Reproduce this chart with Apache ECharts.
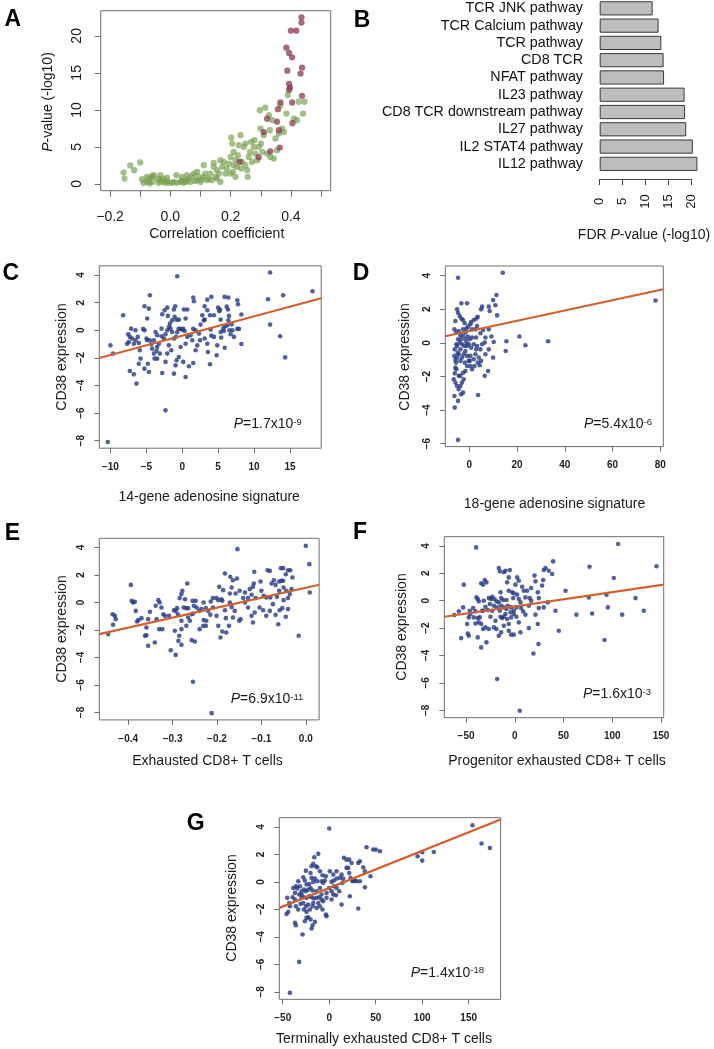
<!DOCTYPE html>
<html><head><meta charset="utf-8">
<script src="https://cdn.jsdelivr.net/npm/echarts@6/dist/echarts.min.js"></script>
<style>html,body{margin:0;padding:0;background:#fff}#c{width:714px;height:1049px}</style>
</head><body><div id="c"></div><script>
const FONT = '"Liberation Sans", Arial, Helvetica, sans-serif';
const BOX = '#6e6e6e';
const TXT = '#1a1a1a';
const NAVY = '#273a82';
const FITCOL = '#d2602e';
const GREEN = 'rgba(120,160,80,0.85)';
const RED = 'rgba(135,55,75,0.92)';

// ---------- Panel A ----------
const aGreen = [[-0.155,1.53],[-0.152,0.72],[-0.133,2.5],[-0.12,1.85],[-0.1,2.9],[-0.094,0.63],[-0.089,0.14],[-0.078,0.27],[-0.072,0.59],[-0.066,0.86],[-0.06,1.08],[-0.055,1.17],[-0.078,0.95],[-0.069,0.05],[-0.06,0.27],[-0.039,0.14],[-0.035,0.5],[-0.028,0.27],[-0.033,1.17],[-0.024,0.72],[-0.017,0.14],[-0.011,0.4],[-0.006,0.14],[-0.011,0.86],[0.006,0.14],[0.011,0.27],[0.02,1.17],[0.022,0.14],[0.033,0.27],[0.039,0.5],[0.044,0.14],[0.05,0.27],[0.055,0.5],[0.061,0.72],[0.066,0.27],[0.039,0.95],[0.072,1.04],[0.078,1.4],[0.081,0.4],[0.089,0.5],[0.094,0.95],[0.1,0.27],[0.105,0.59],[0.111,0.95],[0.116,1.4],[0.122,0.5],[0.127,0.72],[0.133,1.4],[0.138,0.5],[0.144,2.3],[0.144,2.84],[0.15,0.95],[0.155,1.85],[0.161,1.4],[0.166,0.27],[0.172,2.3],[0.177,2.97],[0.183,1.4],[0.188,2.07],[0.194,2.75],[0.2,3.65],[0.202,6.26],[0.205,5.45],[0.208,1.62],[0.21,2.52],[0.216,3.2],[0.221,2.3],[0.224,3.87],[0.227,5.22],[0.233,6.58],[0.235,2.07],[0.238,2.97],[0.244,5.0],[0.249,2.52],[0.255,1.85],[0.257,0.95],[0.26,3.65],[0.264,4.32],[0.268,5.68],[0.271,2.97],[0.277,5.0],[0.279,5.9],[0.282,4.1],[0.288,3.2],[0.293,5.0],[0.297,9.95],[0.299,7.48],[0.301,5.45],[0.305,4.32],[0.31,6.58],[0.315,10.3],[0.321,4.1],[0.327,9.28],[0.33,7.25],[0.332,3.65],[0.338,8.6],[0.343,3.42],[0.349,6.13],[0.354,4.55],[0.36,6.8],[0.365,10.6],[0.371,7.48],[0.377,7.0],[0.385,9.5],[0.39,12.0],[0.41,8.83],[0.42,8.6],[0.44,9.5],[0.445,11.1],[0.426,11.1],[0.166,3.2],[0.21,4.32],[0.249,5.45],[0.111,2.52],[0.089,1.62],[0.2,1.4],[0.216,0.95],[0.155,0.72],[0.055,1.17],[-0.044,0.72]];
const aRed = [[0.435,22.5],[0.435,21.8],[0.40,20.7],[0.418,20.7],[0.385,18.4],[0.394,17.7],[0.404,17.1],[0.388,15.3],[0.437,15.7],[0.432,14.9],[0.394,13.5],[0.397,13.0],[0.394,12.7],[0.437,11.9],[0.365,11.0],[0.404,11.0],[0.357,10.1],[0.321,8.8],[0.354,8.4],[0.405,8.2],[0.36,7.25],[0.31,7.0],[0.363,4.9],[0.332,4.4],[0.23,3.0],[0.293,3.6]];
const aXTicks = [-0.2,-0.1,0,0.1,0.2,0.3,0.4,0.5];
const aXLabels = [-0.2,0,0.2,0.4];
const aYTicks = [0,5,10,15,20];

// ---------- Panel B ----------
const bCategories = ['TCR JNK pathway','TCR Calcium pathway','TCR pathway','CD8 TCR','NFAT pathway','IL23 pathway','CD8 TCR downstream pathway','IL27 pathway','IL2 STAT4 pathway','IL12 pathway'];
const bValues = [11.6,12.9,13.5,14.0,14.1,18.6,18.7,18.95,20.4,21.4];
const bTicks = [0,5,10,15,20];

// ---------- Panels C-G (CD38 expression vs signature) ----------
const cPoints = [[-0.7,3.91],[12.23,4.18],[18.14,2.83],[11.95,2.25],[14.05,2.54],[12.23,0.41],[13.63,-0.43],[14.33,-1.96],[8.23,-0.99],[7.67,2.17],[7.77,1.88],[8.23,1.14],[7.67,0.1],[7.9,0.1],[6.42,2.37],[5.9,2.42],[6.19,1.71],[6.37,1.5],[6.51,1.04],[6.42,0.72],[6.28,0.36],[6.56,0],[6.74,-0.29],[5.98,0.29],[5.7,0.12],[5.42,-0.53],[5.26,1.5],[4.98,1.64],[5.16,1.38],[4.05,2.42],[3.86,1.09],[3.12,0.77],[3.49,1.45],[2.56,0.41],[2.79,1.09],[3.02,0.72],[3.95,0.05],[3.12,-0.6],[3.49,-0.97],[3.58,-1.57],[3.86,-2.46],[4.79,-1.81],[4.88,-1.09],[4.42,-0.48],[4.05,-0.39],[5.35,-0.12],[5.81,-0.05],[5.91,-1.26],[6.98,0],[1.53,2.37],[1.63,2.1],[0.7,1.5],[0.23,1.5],[0.47,0.85],[0.14,0.1],[0.33,-0.05],[0,0.05],[-0.23,0.1],[-0.47,0.77],[-0.79,0.77],[-1.07,0.97],[-1.16,1.5],[-0.98,1.74],[-0.51,0.1],[-0.7,-0.14],[-0.88,-0.48],[-1.16,-0.6],[-1.4,-0.12],[-1.63,0.12],[-1.86,0.24],[-2.09,0],[-2.33,-0.29],[-2.56,-0.6],[-2.88,-0.43],[-2.88,0.12],[-2.79,1.16],[-3.26,-0.97],[-3.49,-1.21],[-3.58,-1.5],[-3.49,-2.05],[-3.86,-2.05],[-3.95,-1.69],[-4.19,-1.33],[-4.33,-1.01],[-4.51,-0.72],[-4.88,-0.72],[-4.98,-0.6],[-5.26,0],[-5.44,0.1],[-4.88,0.85],[-4.65,1.57],[-5.26,1.74],[-4.51,2.54],[-4.79,-2.42],[-4.65,-3.02],[-5.26,-2.78],[-5.81,-2.05],[-5.91,-1.45],[-6.05,-0.92],[-6.19,-0.48],[-6.51,-0.72],[-6.74,-0.97],[-6.98,-0.6],[-7.12,0.12],[-7.3,-0.48],[-7.53,-0.29],[-7.44,-0.85],[-7.67,-0.97],[-7.3,-2.95],[-6.74,-3.19],[-6.37,-3.86],[-6.05,-2.42],[-8.23,1.09],[-10.0,-1.09],[-9.63,-1.69],[-10.37,-8.09],[-2.33,-5.8],[-1.16,-3.14],[-0.93,-2.54],[0.14,-2.29],[0.47,-3.38],[0.93,-2.61],[1.53,-2.37],[1.86,-1.45],[2.09,-1.09],[2.47,-0.72],[1.4,-0.72],[1.16,-0.36],[1.53,0.1],[1.86,0],[2.33,-0.24],[0.7,-0.48],[0.47,-0.97],[-0.23,-1.21],[-0.47,-1.93],[-0.79,-2.17],[-1.53,-1.45],[-1.86,-1.09],[-2.09,-1.69],[-2.33,-2.29],[-2.79,-3.09],[-3.12,-1.69],[-2.09,1.64],[-2.47,1.45],[-2.0,1.04],[-1.72,0.48],[-1.4,0.72],[-3.49,-0.36],[-3.72,-0.12],[-3.95,-0.72],[-6.51,0],[3.12,1.74],[4.42,1.09],[3.49,2.22],[5.35,0.77],[7.21,-0.48],[6.88,0.43]];
const dPoints = [[-4.76,3.88],[13.99,4.18],[78.04,2.53],[11.33,2.85],[9.93,2.55],[10.91,2.24],[11.61,1.64],[8.11,2.16],[8.53,1.9],[5.31,2.16],[4.9,2.0],[3.5,1.56],[2.94,1.45],[1.82,1.37],[0.7,1.25],[0.42,1.11],[-0.56,0.97],[-1.26,0.85],[-1.96,1.17],[-2.66,1.37],[-3.36,1.45],[-4.06,1.6],[-4.76,1.8],[-5.17,2.0],[-3.36,2.36],[-0.98,2.36],[-5.87,1.31],[-6.29,0.81],[-5.45,0.62],[-4.48,0.71],[-3.78,0.46],[-2.66,0.81],[-1.68,0.62],[-0.7,0.38],[0.14,0.22],[1.12,0.32],[2.8,0.32],[4.62,0.58],[5.73,0.77],[6.71,0.32],[9.23,0.38],[10.21,0.06],[15.52,0.1],[20.98,0.38],[23.5,-0.14],[33.0,0.1],[15.24,-0.48],[9.93,-0.87],[8.11,-0.38],[6.71,-0.67],[5.31,-0.08],[4.62,-0.38],[3.22,-0.18],[1.82,-0.08],[0.7,-0.28],[-0.28,-0.08],[-1.26,0.02],[-2.1,-0.18],[-3.08,-0.08],[-4.06,0.02],[-5.17,-0.18],[-6.15,-0.38],[-6.29,-0.77],[-5.87,-1.01],[-5.17,-0.87],[-4.48,-0.67],[-3.78,-1.07],[-3.08,-0.87],[-2.38,-0.67],[-1.68,-0.48],[-0.98,-0.77],[-0.28,-1.07],[0.42,-1.37],[1.12,-1.57],[2.1,-1.37],[3.5,-1.17],[4.34,-1.33],[4.9,-1.07],[3.92,-0.87],[6.43,-1.96],[7.83,-1.67],[3.64,-3.1],[-5.45,-1.57],[-6.15,-1.81],[-6.57,-2.16],[-5.87,-2.36],[-5.17,-2.56],[-4.48,-2.76],[-3.78,-2.56],[-3.08,-2.36],[-2.38,-2.16],[-2.66,-1.77],[-3.78,-1.96],[-1.68,-1.67],[-2.66,-2.96],[-3.5,-3.05],[-6.29,-3.16],[-4.76,-3.45],[-6.15,-3.85],[-4.76,-5.77],[-5.87,-1.47],[-4.48,-1.96],[-5.45,-0.08],[-4.76,0.22],[-3.5,0.22],[-2.66,0.42],[-1.68,0.22],[-0.98,-0.18],[-3.78,-0.38],[-4.9,-0.58],[-5.59,-1.17],[-1.96,-1.17],[-0.98,-1.37],[0.14,-1.07],[0.42,-0.77],[1.82,-0.97],[2.52,-0.67],[2.8,-0.38],[1.12,0.81],[2.52,0.81],[3.22,1.01],[6.43,0.02],[8.11,0.81]];
const ePoints = [[-0.154,3.88],[0.0,4.12],[0.008,2.79],[0.009,0.73],[-0.016,-2.42],[-0.03,1.82],[-0.035,2.35],[-0.04,2.35],[-0.045,2.06],[-0.051,2.5],[-0.056,2.5],[-0.055,1.58],[-0.051,1.58],[-0.06,1.53],[-0.05,1.09],[-0.06,0.85],[-0.068,1.28],[-0.072,1.62],[-0.077,1.38],[-0.086,2.35],[-0.081,2.3],[-0.102,1.53],[-0.116,2.23],[-0.117,1.38],[-0.119,1.14],[-0.122,0.56],[-0.113,0.32],[-0.104,-0.36],[-0.095,0.48],[-0.08,0.36],[-0.074,-0.12],[-0.068,-0.9],[-0.059,-0.56],[-0.053,-0.41],[-0.05,0.17],[-0.04,0.32],[-0.036,0.61],[-0.032,0.97],[-0.045,-1.04],[-0.062,-1.58],[-0.081,-0.61],[-0.089,-0.97],[-0.096,-0.56],[-0.119,-1.45],[-0.115,-0.73],[-0.122,-0.97],[-0.13,-0.36],[-0.137,0],[-0.141,0.32],[-0.147,-1.21],[-0.15,-1.33],[-0.164,-1.09],[-0.167,-0.32],[-0.171,0.65],[-0.167,1.09],[-0.164,1.62],[-0.155,1.75],[-0.17,1.87],[-0.182,2.11],[-0.186,0.9],[-0.188,0.12],[-0.182,-0.56],[-0.18,-1.14],[-0.173,-1.7],[-0.188,-2.11],[-0.192,-2.55],[-0.179,-2.18],[-0.197,-1.7],[-0.201,-0.97],[-0.197,0.17],[-0.201,0.32],[-0.195,1.14],[-0.19,0.24],[-0.209,0.32],[-0.214,0.07],[-0.209,-0.36],[-0.215,-0.9],[-0.22,-0.61],[-0.225,-0.41],[-0.23,-1.28],[-0.235,-0.48],[-0.24,-0.61],[-0.246,-0.36],[-0.252,-0.24],[-0.248,0.12],[-0.255,0.12],[-0.254,-0.8],[-0.257,-0.85],[-0.261,-1.33],[-0.265,-1.09],[-0.269,-0.41],[-0.265,-0.41],[-0.272,0.24],[-0.275,-0.36],[-0.278,0.85],[-0.28,0.61],[-0.284,0.32],[-0.29,-0.41],[-0.293,-0.61],[-0.297,-0.56],[-0.28,-1.33],[-0.269,-1.7],[-0.28,-1.94],[-0.285,-2.42],[-0.295,-2.06],[-0.287,-2.79],[-0.257,-2.74],[-0.25,-2.84],[-0.239,-1.94],[-0.231,-1.7],[-0.225,-1.7],[-0.224,-1.33],[-0.23,0],[-0.288,-0.85],[-0.28,-3.08],[-0.293,-3.81],[-0.267,1.38],[-0.254,-5.77],[-0.212,-8.05],[-0.304,-3.47],[-0.308,-0.97],[-0.317,-0.97],[-0.321,-0.85],[-0.325,-0.36],[-0.329,0],[-0.332,0.17],[-0.338,-0.24],[-0.336,-1.21],[-0.33,-1.94],[-0.323,-1.94],[-0.34,-2.91],[-0.351,-0.68],[-0.355,-1.21],[-0.359,-1.82],[-0.359,-2.38],[-0.362,-2.42],[-0.355,-3.15],[-0.37,-1.14],[-0.377,-1.28],[-0.383,-0.61],[-0.38,-1.38],[-0.385,0.05],[-0.389,0],[-0.392,0.12],[-0.394,1.28],[-0.428,-1.21],[-0.43,-0.97],[-0.434,-1.62],[-0.435,-0.85],[-0.445,-2.3],[-0.158,0.65],[-0.149,0.85],[-0.137,0.73],[-0.171,0],[-0.16,-0.61],[-0.13,0.32],[-0.126,0.97],[-0.1,0.85],[-0.089,0.36],[-0.065,0.41],[-0.044,0.85],[-0.04,-0.48]];
const fPoints = [[-39.7,3.89],[106,4.14],[145.3,2.51],[76.6,2.48],[101.5,1.66],[94,0.44],[123.8,0.19],[75.9,0.24],[95.4,-0.49],[79.3,-0.93],[63.2,-1.02],[110.1,-1.02],[132.3,-0.73],[92,-2.87],[52,0.73],[41.7,-0.73],[45.1,-2.19],[39.3,2.87],[38.3,1.95],[34.9,2.19],[31.5,2.39],[29.7,2.24],[29.1,1.51],[28.0,1.1],[24.6,0.19],[23.6,0.61],[20.2,1.83],[21.2,1.41],[16.8,0.93],[15.4,0.19],[14.4,-0.37],[16.8,0],[21.2,-1.02],[23.6,-1.7],[24.3,-3.16],[19.1,-3.85],[14.4,-2.0],[10.9,-1.02],[8.5,-0.78],[6.5,-0.54],[9.2,0.73],[7.5,1.02],[4.1,1.46],[2.4,1.7],[0.7,1.17],[-1.0,0.54],[-2.7,0.61],[2.4,0.44],[4.1,0.12],[5.8,-0.12],[1.7,-0.49],[-1.0,-0.73],[-3.8,-0.49],[-4.4,-0.85],[-3.8,-1.22],[-1.0,-0.97],[1.7,-1.17],[4.1,-1.58],[5.8,-2.31],[-1.0,-2.48],[-3.8,-2.48],[-6.2,-1.7],[-7.9,-1.34],[-9.6,-0.97],[-11.3,-1.17],[-8.5,-0.61],[-7.2,-0.37],[-8.5,0.05],[-6.2,0.73],[-7.9,1.34],[-6.2,1.7],[-5.1,2.24],[-9.6,2.19],[-11.3,2.07],[-16.4,2.39],[-15.4,2.14],[-12.0,0.05],[-14.0,0.19],[-16.4,-0.12],[-18.8,-0.05],[-18.1,-0.49],[-15.4,-0.73],[-14.7,-1.17],[-13.0,-1.27],[-11.3,-1.83],[-14.0,-2.31],[-16.4,-2.56],[-18.8,-2.07],[-21.5,-1.95],[-25.0,-1.17],[-23.2,-0.73],[-21.5,-0.37],[-24.3,0.12],[-26.7,0.19],[-23.2,0.29],[-25.6,-0.24],[-27.7,-0.68],[-30.1,-0.44],[-32.5,-0.73],[-31.8,0],[-30.8,1.51],[-29.1,1.34],[-32.5,1.17],[-34.5,1.27],[-33.5,-0.73],[-35.9,-1.22],[-38.0,-1.27],[-36.9,-1.58],[-34.5,-1.7],[-32.5,-2.07],[-30.1,-1.95],[-29.1,-3.04],[-34.5,-3.41],[-38.0,-2.68],[-40.3,-1.66],[-42.1,-1.22],[-40.3,-0.78],[-42.7,-0.54],[-39.3,0.24],[-38.0,0.12],[-36.9,-0.05],[-45.5,-0.97],[-47.2,-1.22],[-46.2,-0.73],[-48.9,-1.7],[-48.2,-2.39],[-47.2,-2.56],[-53,-0.49],[-55,-2.73],[-52.3,1.17],[-57.4,-0.78],[-62,-1.05],[-18.1,-5.72],[5.1,-8.03],[-26.7,-2.07],[-19.8,-1.46],[-6.2,-2.19],[-1.7,0.19],[-11.3,-0.49],[-14,-0.37],[-20.9,0.12],[-14.7,0.61],[24.6,-0.54],[29.7,-0.49],[33.8,-0.12],[10.9,0.24],[12.6,0.73]];
const gPoints = [[0,3.88],[154.1,4.12],[163.8,2.79],[172.8,2.47],[112.5,2.18],[100,2.16],[95,1.87],[100,1.55],[54.5,2.23],[50.2,2.35],[47.3,2.35],[40.1,2.52],[38.4,0.78],[44.4,0.41],[36.6,1.07],[33,1.5],[31.2,1.38],[29.4,0.05],[27.6,0.1],[25.1,0.05],[22.9,0.29],[21.5,0.65],[22.2,-1.04],[31.2,-1.94],[38.4,-0.39],[14.3,-0.07],[15.1,0.24],[15.8,1.75],[18.6,1.62],[21.5,1.62],[24,1.38],[20.4,1.02],[13.3,0.53],[11.5,0.29],[7.9,0.24],[5,0.1],[2.5,0],[0.7,0.78],[5,-0.32],[7.9,-0.44],[10.8,-0.68],[13.3,-1.65],[7.2,-0.97],[2.5,-0.68],[0,-0.44],[-2.9,-0.8],[-4.7,0.1],[-6.5,-0.07],[-3.6,0.41],[-7.2,0.48],[-10,0.78],[-11.8,2.04],[-16.1,1.79],[-14.3,1.14],[-12.9,1.07],[-17.2,1.31],[-19,1.14],[-15.4,0.24],[-17.2,0],[-19,0.29],[-20.1,0.65],[-21.5,-0.15],[-20.1,-0.44],[-22.6,-0.56],[-24.4,-0.19],[-26.2,0.1],[-27.9,0.34],[-25.1,0.82],[-27.2,-0.56],[-29.7,-0.68],[-31.5,-0.32],[-33.3,0.05],[-35.8,-0.32],[-38.7,-0.44],[-32.3,-0.92],[-29.7,-1.16],[-27.2,-1.12],[-24.4,-1.16],[-21.5,-1.04],[-19,-1.12],[-16.5,-1.21],[-13.6,-1.16],[-10.8,-1.12],[-8.2,-1.28],[-6.5,-1.41],[-2.9,-1.16],[2.5,-1.28],[-22.6,-1.65],[-25.1,-1.77],[-27.9,-1.53],[-30.8,-1.6],[-33.3,-2.01],[-35.8,-1.77],[-27.2,-2.01],[-24.4,-2.18],[-20.8,-2.01],[-17.9,-1.77],[-13.6,-1.89],[-10,-1.77],[-7.2,-2.01],[-3.6,-2.38],[-2.9,-2.5],[-24.4,-2.62],[-26.2,-2.86],[-22.6,-2.57],[-20.1,-2.74],[-17.9,-3.15],[-15.4,-2.91],[-19,-3.39],[-36.9,-2.98],[-35.8,-3.15],[-28.7,-3.83],[-42.3,-1.77],[-43,-1.53],[-45.2,-1.16],[-44.1,-2.18],[-45.9,-2.33],[-39.4,-1.12],[-36.9,-0.8],[-32.3,-5.82],[-42.3,-8.07],[-36.9,-1.28],[-34.4,-0.48],[-29.7,-0.92],[-25.1,-0.68],[-17.9,-0.63],[-13.6,-0.68],[-10,-0.44],[-8.2,0.05],[-12.9,0.05],[4.3,0.53],[7.9,0.78],[18.6,1.02],[25.8,0.1],[33,0.05],[4.3,-0.92],[-8.2,-0.92],[-11.8,-1.53],[-17.2,-1.53]];

// regression fits: [intercept, slope]
const cFit = [-0.39, 0.14];
const dFit = [0.71, 0.0306];
const eFit = [1.07, 7.25];
const fFit = [-0.42, 0.0104];
const gFit = [-0.44, 0.027];

// tick values
const yTicks8 = [-8,-6,-4,-2,0,2,4];
const yTicks6 = [-6,-4,-2,0,2,4];
const cXTicks = [-10,-5,0,5,10,15];
const dXTicks = [0,20,40,60,80];
const eXTicks = [-0.4,-0.3,-0.2,-0.1,0];
const fXTicks = [-50,0,50,100,150];
const gXTicks = [-50,0,50,100,150];

// p-value labels
const pLabels = {C:['1.7','-9'], D:['5.4','-6'], E:['6.9','-11'], F:['1.6','-3'], G:['1.4','-18']};

// ---------- helpers ----------
const minus = s => String(s).replace('-', '\u2212');
const fmtInt = v => minus(Math.round(v));
const fmt1 = v => minus((Math.abs(v) < 1e-9 ? 0 : v).toFixed(1));

function valAxis(gi, min, max, ticks, labels, fmt, isY, o) {
  return {
    gridIndex: gi, type: 'value', min: min, max: max,
    position: isY ? 'left' : 'bottom',
    axisLine: {show: false, onZero: false}, splitLine: {show: false},
    axisTick: {show: true, inside: false, length: o.tick, customValues: ticks, lineStyle: {color: BOX, width: 1}},
    axisLabel: {customValues: labels, formatter: fmt, fontSize: o.fs, fontWeight: o.fw || 'normal', color: o.col || TXT, fontFamily: FONT,
      margin: o.margin, rotate: isY ? 90 : 0}
  };
}

const grids = [], xAxes = [], yAxes = [], series = [], graphics = [];
const boxGrid = g => Object.assign({show: true, borderColor: BOX, borderWidth: 1, backgroundColor: 'transparent', outerBoundsMode: 'none', containLabel: false}, g);

// Panel A
grids.push(boxGrid({left: 100.7, top: 10.7, width: 230, height: 180}));
xAxes.push(valAxis(0, -0.231, 0.532, aXTicks, aXLabels, fmt1, false, {tick: 6, fs: 14, margin: 19}));
yAxes.push(valAxis(0, -0.92, 23.4, aYTicks, aYTicks, fmtInt, true, {tick: 6, fs: 14, margin: 17}));
series.push({type: 'scatter', xAxisIndex: 0, yAxisIndex: 0, data: aGreen, symbolSize: 6.3, itemStyle: {color: GREEN}, silent: true});
series.push({type: 'scatter', xAxisIndex: 0, yAxisIndex: 0, data: aRed, symbolSize: 6.3, itemStyle: {color: RED}, silent: true, z: 3});

// Panel B
grids.push({left: 599.7, top: -0.3, width: 91.3, height: 172.8, outerBoundsMode: 'none', containLabel: false});
xAxes.push({gridIndex: 1, type: 'value', min: 0, max: 20, position: 'bottom', offset: 6.5,
  axisLine: {show: true, onZero: false, lineStyle: {color: '#444', width: 1}}, splitLine: {show: false},
  axisTick: {show: true, length: 6, customValues: bTicks, lineStyle: {color: '#444'}},
  axisLabel: {customValues: bTicks, rotate: 90, align: 'center', verticalAlign: 'middle', margin: 22.5, fontSize: 13, color: TXT, fontFamily: FONT}});
yAxes.push({gridIndex: 1, type: 'category', data: bCategories, inverse: true,
  axisLine: {show: false, onZero: false}, axisTick: {show: false}, splitLine: {show: false},
  axisLabel: {interval: 0, fontSize: 14.3, color: '#111', fontFamily: FONT, margin: 16.7}});
series.push({type: 'bar', xAxisIndex: 1, yAxisIndex: 1, data: bValues, barWidth: 14.2, clip: false,
  itemStyle: {color: '#bdbdbd', borderColor: '#3a3a3a', borderWidth: 1}, silent: true});

// Panels C-G
const panels = [
  {k:'C', pts: cPoints, fit: cFit, g: {left: 99.3, top: 265.8, width: 221.9, height: 182.4}, x: [-11.55, 19.35], y: [-8.54, 4.67], xt: cXTicks, yt: yTicks8, xf: fmtInt},
  {k:'D', pts: dPoints, fit: dFit, g: {left: 445.3, top: 266, width: 218, height: 180.6}, x: [-10.1, 81.3], y: [-6.17, 4.58], xt: dXTicks, yt: yTicks6, xf: fmtInt},
  {k:'E', pts: ePoints, fit: eFit, g: {left: 99.3, top: 538.3, width: 219.8, height: 181.6}, x: [-0.465, 0.03], y: [-8.54, 4.67], xt: eXTicks, yt: yTicks8, xf: fmt1},
  {k:'F', pts: fPoints, fit: fFit, g: {left: 444.3, top: 536.7, width: 219.4, height: 181}, x: [-72.3, 152.7], y: [-8.54, 4.67], xt: fXTicks, yt: yTicks8, xf: fmtInt},
  {k:'G', pts: gPoints, fit: gFit, g: {left: 279.3, top: 817.7, width: 221.3, height: 181.6}, x: [-53.7, 184.3], y: [-8.54, 4.67], xt: gXTicks, yt: yTicks8, xf: fmtInt}
];
panels.forEach((p, i) => {
  const gi = i + 2;
  grids.push(boxGrid(p.g));
  xAxes.push(valAxis(gi, p.x[0], p.x[1], p.xt, p.xt, p.xf, false, {tick: 5, fs: 10, fw: 'bold', col: '#222', margin: 14}));
  yAxes.push(valAxis(gi, p.y[0], p.y[1], p.yt, p.yt, fmtInt, true, {tick: 5, fs: 10, fw: 'bold', col: '#222', margin: 13}));
  series.push({type: 'scatter', xAxisIndex: gi, yAxisIndex: gi, data: p.pts, symbolSize: 4.6, itemStyle: {color: NAVY}, silent: true});
  const x0 = p.x[0], x1 = p.x[1];
  series.push({type: 'line', xAxisIndex: gi, yAxisIndex: gi, showSymbol: false, symbol: 'none', silent: true, z: 4,
    data: [[x0, p.fit[0] + p.fit[1] * x0], [x1, p.fit[0] + p.fit[1] * x1]],
    lineStyle: {color: FITCOL, width: 2.2}});
});

// ---------- text: panel letters, axis titles, annotations ----------
const letters = [['A',12.7,20],['B',362,20.5],['C',10.8,274],['D',361,274],['E',12.5,533.3],['F',360,533],['G',195.8,823.3]];
letters.forEach(l => graphics.push({type: 'text', x: l[1], y: l[2], style: {text: l[0], font: `bold 23px ${FONT}`, fill: '#000', align: 'center', verticalAlign: 'middle'}}));

const richI = {i: {fontStyle: 'italic', fontSize: 14, fontFamily: FONT, fill: TXT, color: TXT}};
function hText(t, x, y) {
  graphics.push({type: 'text', x: x, y: y, style: {text: t, font: `14px ${FONT}`, fill: TXT, align: 'center', verticalAlign: 'middle', rich: richI}});
}
function vText(t, x, y) {
  graphics.push({type: 'text', x: x, y: y, rotation: Math.PI / 2, style: {text: t, font: `14px ${FONT}`, fill: TXT, align: 'center', verticalAlign: 'middle', rich: richI}});
}
hText('Correlation coefficient', 216.7, 234.3);
vText('{i|P}-value (-log10)', 48, 102);
hText('FDR {i|P}-value (-log10)', 644, 235);
hText('14-gene adenosine signature', 209.2, 496.7);
hText('18-gene adenosine signature', 554.5, 504);
hText('Exhausted CD8+ T cells', 207.5, 760.7);
hText('Progenitor exhausted CD8+ T cells', 557, 760.7);
hText('Terminally exhausted CD8+ T cells', 384, 1039);
vText('CD38 expression', 61.7, 357);
vText('CD38 expression', 405.3, 357);
vText('CD38 expression', 61.7, 629);
vText('CD38 expression', 402, 627);
vText('CD38 expression', 231.7, 908);

const pPos = {C: [301.7, 424], D: [652, 424.3], E: [303.3, 699.3], F: [651, 694.3], G: [484, 972.7]};
Object.keys(pPos).forEach(k => {
  const [m, e] = pLabels[k];
  graphics.push({type: 'text', x: pPos[k][0], y: pPos[k][1], style: {
    text: `{i|P}=${m}x10{s|${e}}`, font: `14px ${FONT}`, fill: TXT, align: 'right', verticalAlign: 'middle',
    rich: {i: {fontStyle: 'italic', fontSize: 14, fontFamily: FONT, fill: TXT, color: TXT},
           s: {fontSize: 9.5, fontFamily: FONT, verticalAlign: 'top', fill: TXT, color: TXT}}}});
});

const chart = echarts.init(document.getElementById('c'), null, {renderer: 'canvas'});
chart.setOption({
  animation: false, backgroundColor: '#fff',
  textStyle: {fontFamily: FONT},
  grid: grids, xAxis: xAxes, yAxis: yAxes, series: series, graphic: graphics
});
</script></body></html>
